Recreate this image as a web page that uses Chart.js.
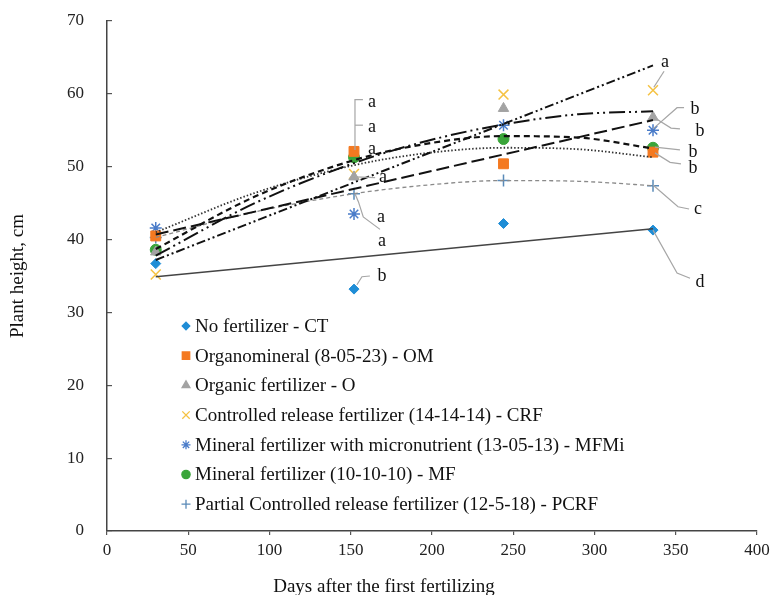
<!DOCTYPE html>
<html>
<head>
<meta charset="utf-8">
<script src="https://cdn.jsdelivr.net/npm/chart.js@4.4.0/dist/chart.umd.min.js"></script>
<style>
  html, body { margin: 0; padding: 0; background: #fff; }
</style>
</head>
<body>
<canvas id="plantHeight" width="774" height="595"></canvas>
<script>
// Measured days and plant heights (cm)
const days = [30, 152, 244, 336];
const ctValues = [36.7, 33.2, 42.2, 41.3];
const omValues = [40.5, 52.1, 50.4, 52.0];
const oValues = [38.3, 48.6, 58.0, 56.8];
const crfValues = [35.2, 49.0, 59.9, 60.5];
const mfmiValues = [41.6, 43.5, 55.7, 55.0];
const mfValues = [38.6, 51.3, 53.8, 52.6];
const pcrfValues = [40.3, 46.3, 48.1, 47.4];

// Trend lines
const linearDays = [30, 336];
const ctTrend = [34.9, 41.5];
const crfTrend = [37.2, 63.9];
const mfmiTrend = [40.7, 56.4];
const curveDays = [30, 91, 152, 198, 244, 290, 336];
const omTrend = [41.0, 46.4, 50.2, 51.9, 52.6, 52.4, 51.3];
const oTrend = [37.8, 45.0, 50.5, 53.6, 55.8, 57.2, 57.6];
const mfTrend = [38.7, 45.9, 50.9, 53.2, 54.2, 54.0, 52.5];
const pcrfTrend = [40.3, 43.8, 46.3, 47.5, 48.1, 48.0, 47.4];

// Axis ticks
const xTicks = [0, 50, 100, 150, 200, 250, 300, 350, 400];
const yTicks = [0, 10, 20, 30, 40, 50, 60, 70];

const seriesNames = [
    'No fertilizer - CT',
    'Organomineral (8-05-23) - OM',
    'Organic fertilizer - O',
    'Controlled release fertilizer (14-14-14) - CRF',
    'Mineral fertilizer with micronutrient (13-05-13) - MFMi',
    'Mineral fertilizer (10-10-10) - MF',
    'Partial Controlled release fertilizer (12-5-18) - PCRF'
];
const seriesValues = [ctValues, omValues, oValues, crfValues, mfmiValues, mfValues, pcrfValues];
const seriesColors = ['#1f8dd6', '#f47920', '#a3a3a3', '#f5c242', '#4a7cc9', '#3aa53a', '#5a8ab8'];
const seriesShapes = ['rectRot', 'rect', 'triangle', 'crossRot', 'star', 'circle', 'cross'];
const seriesRadius = [5, 7, 6, 7, 6, 5.5, 6];

// Significance letters (data coordinates) and their leader lines
const letterNotes = [
    { text: 'a', at: [163.1, 58.9], leader: [[152.6, 52.3], [152.6, 59.2], [157.5, 59.2]] },
    { text: 'a', at: [163.1, 55.4], leader: [[152.6, 55.7], [157.5, 55.7]] },
    { text: 'a', at: [163.1, 52.4], leader: [] },
    { text: 'a', at: [169.8, 48.6], leader: [[152.6, 48.6], [165.0, 48.5]] },
    { text: 'a', at: [168.6, 43.0], leader: [[152.6, 46.3], [154.7, 45.2], [157.7, 43.1], [168.0, 41.4]] },
    { text: 'a', at: [169.2, 39.8], leader: [] },
    { text: 'b', at: [169.2, 34.9], leader: [[153.8, 33.8], [156.9, 34.9], [161.8, 35.0]] },
    { text: 'a', at: [343.4, 64.4], leader: [[336.5, 60.9], [342.8, 63.1]] },
    { text: 'b', at: [361.8, 57.9], leader: [[336.0, 55.2], [350.8, 58.1], [355.1, 58.1]] },
    { text: 'b', at: [364.9, 54.8], leader: [[337.2, 56.7], [347.1, 55.3], [352.6, 55.2]] },
    { text: 'b', at: [360.6, 52.0], leader: [[337.2, 52.7], [352.6, 52.3]] },
    { text: 'b', at: [360.6, 49.8], leader: [[337.2, 51.9], [346.5, 50.6], [353.2, 50.4]] },
    { text: 'c', at: [363.7, 44.1], leader: [[336.0, 47.5], [351.4, 44.5], [358.2, 44.2]] },
    { text: 'd', at: [364.9, 34.2], leader: [[336.0, 41.3], [350.8, 35.4], [358.8, 34.7]] }
];

const FONT = "'Liberation Serif', 'Times New Roman', serif";
const xTitle = 'Days after the first fertilizing';

function toPoints(xs, ys) {
    return xs.map((x, i) => ({ x: x, y: ys[i] }));
}

// Trend line datasets (drawn on top of the markers)
function trend(xs, ys, color, width, dash, smooth) {
    return {
        type: 'line',
        data: toPoints(xs, ys),
        borderColor: color,
        borderWidth: width,
        borderDash: dash,
        pointRadius: 0,
        showLine: true,
        fill: false,
        cubicInterpolationMode: smooth ? 'monotone' : 'default',
        tension: 0
    };
}

const trendSets = [
    trend(linearDays, crfTrend, '#111', 2, [9, 3, 2, 3, 2, 3], false),
    trend(curveDays, oTrend, '#111', 2, [16, 4, 2, 4, 2, 4], true),
    trend(linearDays, mfmiTrend, '#111', 2, [13, 5], false),
    trend(curveDays, mfTrend, '#111', 2.2, [6, 4], true),
    trend(curveDays, omTrend, '#333', 1.8, [1.5, 2], true),
    trend(curveDays, pcrfTrend, '#8a8a8a', 1.3, [4, 3], true),
    trend(linearDays, ctTrend, '#444', 1.5, [], false)
];

const markerSets = seriesNames.map((name, i) => ({
    label: name,
    data: toPoints(days, seriesValues[i]),
    pointStyle: seriesShapes[i],
    pointRadius: seriesRadius[i],
    pointHoverRadius: seriesRadius[i],
    backgroundColor: seriesColors[i],
    borderColor: seriesColors[i],
    pointBorderWidth: ['crossRot', 'star', 'cross'].includes(seriesShapes[i]) ? 1.5 : 1,
    showLine: false
}));

// Letters with grey leader lines
const letterPlugin = {
    id: 'letters',
    afterDatasetsDraw(chart) {
        const ctx = chart.ctx;
        const xs = chart.scales.x, ys = chart.scales.y;
        ctx.save();
        ctx.strokeStyle = '#a6a6a6';
        ctx.lineWidth = 1.2;
        letterNotes.forEach(note => {
            if (note.leader.length > 1) {
                ctx.beginPath();
                note.leader.forEach((p, k) => {
                    const px = xs.getPixelForValue(p[0]);
                    const py = ys.getPixelForValue(p[1]);
                    if (k === 0) ctx.moveTo(px, py); else ctx.lineTo(px, py);
                });
                ctx.stroke();
            }
        });
        ctx.fillStyle = '#111';
        ctx.font = '18px ' + FONT;
        ctx.textAlign = 'center';
        ctx.textBaseline = 'middle';
        letterNotes.forEach(note => {
            ctx.fillText(note.text, xs.getPixelForValue(note.at[0]), ys.getPixelForValue(note.at[1]));
        });
        ctx.restore();
    }
};

// Legend inside the plot area, plus the x axis title (sits left of centre in the original)
const legendPlugin = {
    id: 'innerLegend',
    afterDraw(chart) {
        const ctx = chart.ctx;
        const area = chart.chartArea;
        const x0 = area.left + 79;
        const y0 = area.top + 305;
        const step = 29.7;
        ctx.save();
        ctx.font = '19px ' + FONT;
        ctx.textAlign = 'left';
        ctx.textBaseline = 'middle';
        seriesNames.forEach((name, i) => {
            const y = y0 + i * step;
            ctx.fillStyle = seriesColors[i];
            ctx.strokeStyle = seriesColors[i];
            ctx.lineWidth = 1.3;
            Chart.helpers.drawPoint(ctx, {
                pointStyle: seriesShapes[i],
                radius: seriesRadius[i] * 0.75,
                borderWidth: 1.3,
                rotation: 0
            }, x0, y);
            ctx.fillStyle = '#111';
            ctx.fillText(name, x0 + 9, y + 1);
        });
        ctx.font = '19px ' + FONT;
        ctx.textAlign = 'center';
        ctx.fillText(xTitle, area.left + 277, chart.height - 8);
        ctx.restore();
    }
};

new Chart(document.getElementById('plantHeight'), {
    type: 'scatter',
    data: { datasets: trendSets.concat(markerSets) },
    plugins: [letterPlugin, legendPlugin],
    options: {
        responsive: false,
        animation: false,
        events: [],
        layout: { padding: { left: 0, top: 21, right: 17, bottom: 0 } },
        plugins: {
            legend: { display: false },
            tooltip: { enabled: false }
        },
        scales: {
            x: {
                type: 'linear',
                min: 0,
                max: 400,
                afterBuildTicks: scale => { scale.ticks = xTicks.map(v => ({ value: v })); },
                afterFit: scale => {
                    scale.height = 64;
                    scale.paddingLeft = 0;
                    scale.paddingRight = 0;
                },
                grid: { drawOnChartArea: false, drawTicks: true, tickLength: 4, color: '#555', lineWidth: 1.2 },
                border: { display: true, color: '#444', width: 1.5 },
                ticks: { color: '#222', padding: 5, maxRotation: 0, autoSkip: false, font: { family: FONT, size: 17 } }
            },
            y: {
                type: 'linear',
                min: 0,
                max: 70,
                afterBuildTicks: scale => { scale.ticks = yTicks.map(v => ({ value: v })); },
                afterFit: scale => {
                    scale.width = 107;
                    scale.paddingTop = 0;
                    scale.paddingBottom = 0;
                },
                grid: { drawOnChartArea: false, drawTicks: true, tickLength: -5, color: '#555', lineWidth: 1.2 },
                border: { display: true, color: '#444', width: 1.5 },
                ticks: { color: '#222', padding: 28, autoSkip: false, font: { family: FONT, size: 17 } },
                title: {
                    display: true,
                    text: 'Plant height, cm',
                    color: '#111',
                    font: { family: FONT, size: 19 },
                    padding: { top: 7, bottom: 0 }
                }
            }
        }
    }
});
</script>
</body>
</html>
